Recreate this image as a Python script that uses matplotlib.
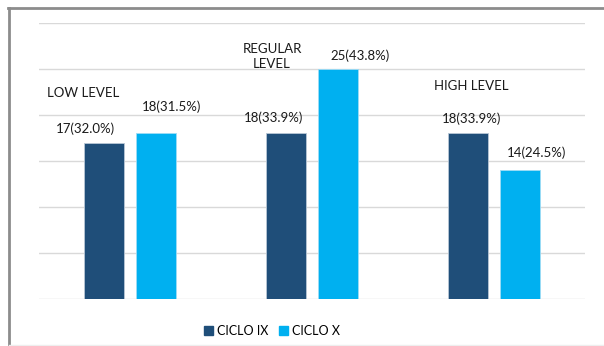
import numpy as np
import matplotlib.pyplot as plt
from matplotlib.lines import Line2D
from matplotlib.patches import Patch

plt.rcParams['font.family'] = ['Lato', 'DejaVu Sans']

levels = ['LOW LEVEL', 'REGULAR\nLEVEL', 'HIGH LEVEL']
series = ['CICLO IX', 'CICLO X']
counts_ix = [17, 18, 18]
counts_x = [18, 25, 14]
pct_ix = [32.0, 33.9, 33.9]
pct_x = [31.5, 43.8, 24.5]

colors = ['#1F4E79', '#00B0F0']

fig = plt.figure(figsize=(6.04, 3.46), dpi=100)
ax = fig.add_axes([39 / 604, 1 - 299 / 346, 546 / 604, 276 / 346])

x = np.arange(len(levels))
w = 0.22
off = 0.141
ax.bar(x - off, counts_ix, w, color=colors[0], edgecolor='#b8c7d6', lw=0.6, zorder=3)
ax.bar(x + off, counts_x, w, color=colors[1], edgecolor='#9fdcf5', lw=0.6, zorder=3)

ax.set_xlim(-0.5, 2.5)
ax.set_ylim(0, 30)
ax.set_yticks(np.arange(0, 31, 5))
ax.yaxis.grid(True, color='#d9d9d9', lw=1)
ax.set_axisbelow(True)
ax.tick_params(left=False, bottom=False, labelleft=False, labelbottom=False)
for s in ax.spines.values():
    s.set_visible(False)

# data labels were dragged around by hand, so each gets its own spot
lab_ix = [(-0.247, 1.5), (0.786, 1.7), (1.874, 1.6)]
lab_x = [(0.231, 2.9), (1.264, 1.4), (2.236, 1.9)]
for i in range(len(levels)):
    ax.text(lab_ix[i][0], counts_ix[i] + lab_ix[i][1], f'{counts_ix[i]}({pct_ix[i]:.1f}%)',
            ha='center', va='center', fontsize=9.5, color='#1a1a1a')
    ax.text(lab_x[i][0], counts_x[i] + lab_x[i][1], f'{counts_x[i]}({pct_x[i]:.1f}%)',
            ha='center', va='center', fontsize=9.5, color='#1a1a1a')

cat_pos = [(-0.258, 22.4), (0.78, 26.4), (1.874, 23.2)]
for name, (cx, cy) in zip(levels, cat_pos):
    ax.text(cx, cy, name, ha='center', va='center', fontsize=9.5,
            color='#1a1a1a', linespacing=1.3)

handles = [Patch(color=c) for c in colors]
fig.legend(handles, series, loc='center', bbox_to_anchor=(272 / 604, 1 - 331 / 346),
           ncol=2, frameon=False, fontsize=9, handlelength=0.7, handleheight=0.7,
           handletextpad=0.3, columnspacing=0.9, borderpad=0)

# chart frame
fig.add_artist(Line2D([8 / 604, 1], [1 - 8 / 346, 1 - 8 / 346], color='#8c8c8c', lw=2))
fig.add_artist(Line2D([9 / 604, 9 / 604], [0, 1 - 8 / 346], color='#8c8c8c', lw=2))
fig.add_artist(Line2D([9 / 604, 1], [1 / 346, 1 / 346], color='#eeeeee', lw=1))

fig.savefig('out.png', dpi=100)
